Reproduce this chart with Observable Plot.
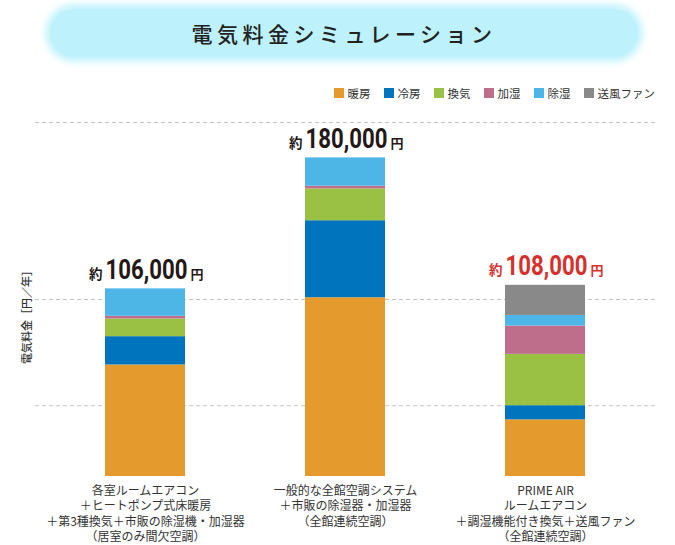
<!DOCTYPE html>
<html>
<head>
<meta charset="utf-8">
<script src="https://cdn.jsdelivr.net/npm/d3@7"></script>
<script src="https://cdn.jsdelivr.net/npm/@observablehq/plot@0.6"></script>
<style>
  html, body { margin: 0; padding: 0; background: #fff; }
  body { width: 675px; height: 545px; position: relative; overflow: hidden;
         font-family: "Noto Sans CJK JP", "Noto Sans", sans-serif; color: #333; }
  #title { position: absolute; left: 50px; top: 9px; width: 588px; height: 48px;
           border-radius: 24px; background: #bdf1fc;
           box-shadow: 0 0 7px 5px #c4f3fd;
           text-align: center; line-height: 48px; font-size: 21px; letter-spacing: 4.5px;
           font-weight: 500; color: #222; }
  #legend { position: absolute; right: 20px; top: 85px; display: flex; gap: 13px;
            font-size: 11.5px; color: #333; align-items: center; }
  #legend .item { display: flex; align-items: center; }
  #legend .sw { width: 10px; height: 10px; margin-right: 4px; }
  #chart { position: absolute; left: 0; top: 108px; }
</style>
</head>
<body>
<div id="title">電気料金シミュレーション</div>
<div id="legend"></div>
<div id="chart"></div>
<script>
// ---- data ----
const systems = [
  "各室ルームエアコン\n＋ヒートポンプ式床暖房\n＋第3種換気＋市販の除湿機・加湿器\n（居室のみ間欠空調）",
  "一般的な全館空調システム\n＋市販の除湿器・加湿器\n（全館連続空調）",
  "PRIME AIR\nルームエアコン\n＋調湿機能付き換気＋送風ファン\n（全館連続空調）"
];
const usages = ["暖房", "冷房", "換気", "加湿", "除湿", "送風ファン"];
const usageColors = ["#e59a2e", "#0075bd", "#9bc144", "#be6d8a", "#4eb6e7", "#898989"];
const heating       = [63000, 101000, 32000];
const cooling       = [16000, 43500, 8000];
const ventilation   = [10000, 18000, 29000];
const humidifying   = [1500, 1500, 16000];
const dehumidifying = [15500, 16000, 6000];
const fan           = [0, 0, 17000];
const totals = [106000, 180000, 108000];
const totalLabels = ["106,000", "180,000", "108,000"];
const totalColors = ["#231815", "#231815", "#d7302c"];
const gridValues = [40000, 100000, 200000];
const yTitle = "電気料金［円／年］";

// ---- build tables ----
const series = [heating, cooling, ventilation, humidifying, dehumidifying, fan];
const rows = [];
systems.forEach((s, i) => usages.forEach((u, j) => {
  if (series[j][i] > 0) rows.push({system: s, usage: u, value: series[j][i]});
}));
const totalRows = systems.map((s, i) => ({system: s, total: totals[i], num: totalLabels[i], color: totalColors[i]}));

// legend
const legend = d3.select("#legend");
usages.forEach((u, j) => {
  const it = legend.append("div").attr("class", "item");
  it.append("div").attr("class", "sw").style("background", usageColors[j]);
  it.append("span").text(u);
});

const cjk = "'Noto Sans CJK JP', sans-serif";
const plot = Plot.plot({
  width: 675,
  height: 437,
  marginTop: 14,
  marginBottom: 69,
  marginLeft: 35,
  marginRight: 20,
  style: {fontFamily: cjk, color: "#333", background: "transparent", overflow: "visible"},
  x: {domain: systems, paddingInner: 0.6, paddingOuter: 0.35},
  y: {domain: [0, 200000], axis: null},
  color: {domain: usages, range: usageColors},
  marks: [
    Plot.ruleY(gridValues, {stroke: "#c4c4c4", strokeDasharray: "4,3", strokeWidth: 1}),
    Plot.barY(rows, {x: "system", y: "value", fill: "usage", order: usages}),
    Plot.ruleY([0], {stroke: "#a3a3a3", strokeWidth: 1.6, x1: 37, x2: 655}),
    Plot.axisX({tickSize: 0, tickPadding: 7, fontSize: 12, lineHeight: 1.3, label: null}),
    // total labels: 約 + number + 円
    Plot.text(totalRows, {x: "system", y: "total", text: "num", fill: "color", dy: -10, dx: 1,
      lineAnchor: "bottom", fontWeight: "bold", fontSize: 28, fontFamily: "'Liberation Sans Narrow', Roboto, sans-serif"}),
    Plot.text(totalRows, {x: "system", y: "total", text: () => "約", fill: "color", dy: -10, dx: -43,
      textAnchor: "end", lineAnchor: "bottom", fontWeight: "bold", fontSize: 13.5}),
    Plot.text(totalRows, {x: "system", y: "total", text: () => "円", fill: "color", dy: -10, dx: 45,
      textAnchor: "start", lineAnchor: "bottom", fontWeight: "bold", fontSize: 13}),
    Plot.text([yTitle], {frameAnchor: "left", textAnchor: "middle", text: d => d, rotate: -90, dx: -8, dy: 15, fontSize: 11, fontWeight: 500, fill: "#333"})
  ]
});
document.getElementById("chart").appendChild(plot);

// condense the numbers horizontally to the reference width
d3.select(plot).selectAll("text").filter(function() {
  return totalLabels.includes(this.textContent);
}).each(function() {
  const w = this.getComputedTextLength();
  const s = Math.min(1, 82 / w);
  const tr = this.getAttribute("transform");
  if (tr) {
    this.setAttribute("transform", tr + ` scale(${s},1)`);
  } else {
    const x = +this.getAttribute("x") || 0;
    this.setAttribute("transform", `translate(${x},0) scale(${s},1) translate(${-x},0)`);
  }
});
</script>
</body>
</html>
